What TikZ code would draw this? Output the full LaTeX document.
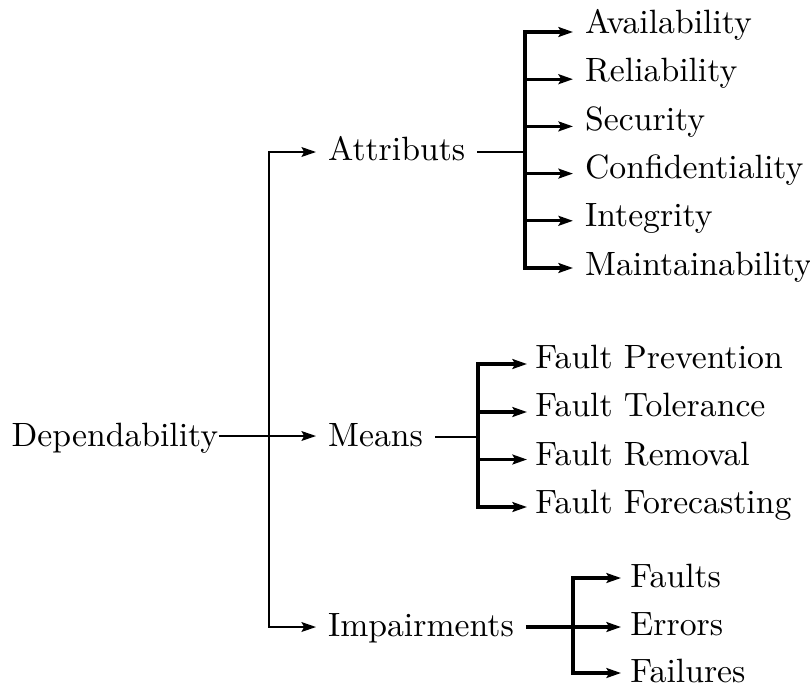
\documentclass[tikz,border=0pt]{standalone}
\usetikzlibrary{arrows.meta,calc}
\begin{document}
\begin{tikzpicture}[x=0.2967pt,y=-0.2967pt,
  leaf/.style={anchor=base west,inner xsep=3.4pt,inner ysep=0pt},
  thinline/.style={line width=0.6pt},
  thickline/.style={line width=1pt},
  tip/.style={-{Stealth[length=4.3pt,width=2.9pt,inset=0.8pt]}}]
\useasboundingbox (0,0) rectangle (810,686);

% root and its three branches
\node[anchor=base west,inner sep=0pt] (dep) at (11,446) {Dependability};
\coordinate (jroot) at (269,436);
\node[leaf] (attr)  at (316,160) {Attributs};
\node[leaf] (means) at (316,446) {Means};
\node[leaf] (imp)   at (316,636) {Impairments};
\draw[thinline,tip] (jroot) |- ($(attr.base west)+(0,-8)$);
\draw[thinline,tip] (jroot) |- ($(imp.base west)+(0,-9)$);
\draw[thinline,tip] (dep.east |- jroot) -- ($(means.base west)+(0,-10)$);

% attributes
\coordinate (ja) at (525,152);
\node[leaf] (av)    at (573,33.5)  {Availability};
\node[leaf] (rel)   at (573,81.8)  {Reliability};
\node[leaf] (sec)   at (573,130.1) {Security};
\node[leaf] (conf)  at (573,178.4) {Confidentiality};
\node[leaf] (integ) at (573,226.7) {Integrity};
\node[leaf] (maint) at (573,275)   {Maintainability};
\draw[thinline] (attr.east |- ja) -- (ja);
\draw[thickline,tip] (ja) |- ($(av.base west)+(0,-1.5)$);
\draw[thickline,tip] (ja) |- ($(rel.base west)+(0,-2.6)$);
\draw[thickline,tip] (ja) |- ($(sec.base west)+(0,-3.7)$);
\draw[thickline,tip] (ja) |- ($(conf.base west)+(0,-4.8)$);
\draw[thickline,tip] (ja) |- ($(integ.base west)+(0,-5.9)$);
\draw[thickline,tip] (ja) |- ($(maint.base west)+(0,-7)$);

% means
\coordinate (jm) at (478,437);
\node[leaf,inner xsep=2.3pt] (fp) at (527,368)   {Fault Prevention};
\node[leaf,inner xsep=2.3pt] (ft) at (527,416.5) {Fault Tolerance};
\node[leaf,inner xsep=2.3pt] (fr) at (527,465)   {Fault Removal};
\node[leaf,inner xsep=2.3pt] (ff) at (527,513)   {Fault Forecasting};
\draw[thinline] (means.east |- jm) -- (jm);
\draw[thickline,tip] (jm) |- ($(fp.base west)+(0,-4)$);
\draw[thickline,tip] (jm) |- ($(ft.base west)+(0,-4.5)$);
\draw[thickline,tip] (jm) |- ($(fr.base west)+(0,-5.5)$);
\draw[thickline,tip] (jm) |- ($(ff.base west)+(0,-6)$);

% impairments
\coordinate (ji) at (573,627);
\node[leaf,inner xsep=2.6pt] (faults)   at (621,587) {Faults};
\node[leaf,inner xsep=2.6pt] (errors)   at (621,635) {Errors};
\node[leaf,inner xsep=2.6pt] (failures) at (621,682) {Failures};
\draw[thickline] (imp.east |- ji) -- (ji);
\draw[thickline,tip] (ji) |- ($(faults.base west)+(0,-9)$);
\draw[thickline,tip] (ji) |- ($(errors.base west)+(0,-8)$);
\draw[thickline,tip] (ji) |- ($(failures.base west)+(0,-9)$);
\end{tikzpicture}
\end{document}
